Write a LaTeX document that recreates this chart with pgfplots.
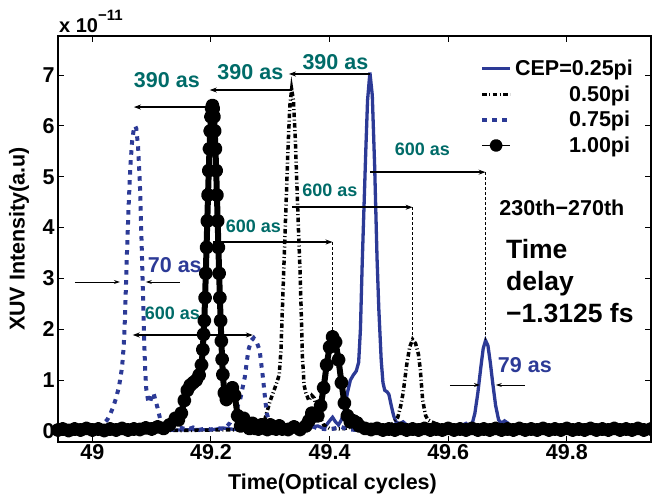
\documentclass[border=0pt]{standalone}
\usepackage{fontspec}
\setmainfont{Liberation Sans}
\usepackage{pgfplots}
\pgfplotsset{compat=1.18}
\usetikzlibrary{arrows.meta}

\definecolor{cblue}{RGB}{44,58,150}
\definecolor{cteal}{RGB}{0,107,104}
\def\fA{\fontsize{21.5bp}{25bp}\selectfont\bfseries}
\def\fB{\fontsize{18bp}{21bp}\selectfont\bfseries}
\def\fC{\fontsize{26.5bp}{32bp}\selectfont\bfseries}

\begin{document}
\begin{tikzpicture}[
  arr/.style={line width=1.8bp,-{Stealth[length=7bp,width=5bp]}},
  arr2/.style={line width=1.8bp,{Stealth[length=7bp,width=5bp]}-{Stealth[length=7bp,width=5bp]}},
  sarr/.style={line width=0.8bp,-{Stealth[length=6bp,width=4bp]}},
  vdot/.style={line width=1.6bp,dash pattern=on 2.5bp off 2.5bp},
]
\begin{axis}[
  width=593bp, height=406bp, scale only axis,
  xmin=48.942, xmax=49.942, ymin=-0.216, ymax=7.767,
  xtick={49,49.2,49.4,49.6,49.8}, ytick={0,1,...,7},
  /pgf/number format/assume math mode=true,
  tick label style={font=\fA},
  xticklabel style={inner sep=2bp},
  axis line style={line width=1.2bp},
  tick style={line width=1bp,black},
  major tick length=6bp,
  xlabel={Time(Optical cycles)}, ylabel={XUV Intensity(a.u)},
  label style={font=\fA},
  xlabel style={at={(axis description cs:0.4629,-0.1034)},anchor=center},
  ylabel style={at={(axis description cs:-0.0658,0.5)},anchor=center},
  legend cell align=left,
  legend style={draw=none, fill=none, at={(axis cs:49.6535,7.295)}, anchor=north west,
    font=\fA, inner sep=0pt, row sep=8.5bp, nodes={inner sep=0pt},
    /tikz/every odd column/.append style={column sep=3bp}},
]
\coordinate (ll) at (rel axis cs:0,0);
\coordinate (tl) at (rel axis cs:0,1);

% CEP = 0.25 pi
\addplot[cblue, line width=3.3bp,
  legend image code/.code={\draw[cblue,line width=3.3bp] (0bp,0bp) -- (28bp,0bp);}]
coordinates {
(48.942,0.01)(48.97,0.02)(49.00,0.01)(49.03,0.02)(49.06,0.01)(49.09,0.02)(49.12,0.01)(49.15,0.02)
(49.18,0.03)(49.20,0.02)(49.22,0.06)(49.24,0.03)(49.26,0.08)(49.28,0.04)(49.30,0.10)(49.32,0.05)
(49.34,0.12)(49.36,0.06)(49.38,0.10)(49.39,0.05)(49.40,0.20)(49.405,0.27)(49.41,0.18)(49.415,0.12)
(49.42,0.22)(49.425,0.40)(49.43,0.75)(49.435,1.00)(49.44,1.10)(49.445,1.18)(49.449,1.35)(49.452,2.0)
(49.455,3.3)(49.458,4.4)(49.461,5.5)(49.464,6.5)(49.468,7.05)(49.472,6.6)(49.476,5.2)(49.48,3.4)
(49.483,2.4)(49.487,1.4)(49.49,0.95)(49.493,0.80)(49.497,0.77)(49.50,0.72)(49.504,0.50)(49.508,0.30)
(49.512,0.18)(49.518,0.14)(49.524,0.18)(49.53,0.12)(49.54,0.04)(49.56,0.02)(49.58,0.03)(49.60,0.02)
(49.615,0.04)(49.625,0.12)(49.63,0.15)(49.635,0.10)(49.64,0.12)(49.645,0.35)(49.65,0.75)(49.655,1.25)
(49.659,1.62)(49.663,1.78)(49.667,1.68)(49.671,1.35)(49.675,0.95)(49.68,0.50)(49.685,0.22)(49.69,0.15)
(49.695,0.20)(49.70,0.16)(49.705,0.06)(49.715,0.03)(49.725,0.08)(49.73,0.06)(49.74,0.02)(49.80,0.01)
(49.87,0.02)(49.942,0.01)
};
\addlegendentry{CEP=0.25pi}

% 0.50 pi
\addplot[black, line width=3.5bp, dash pattern=on 4.5bp off 2.5bp on 1bp off 2.5bp,
  legend image code/.code={\draw[black,line width=3.5bp,dash pattern=on 4.5bp off 2.5bp on 1bp off 2.5bp] (0bp,0bp) -- (28bp,0bp);}]
coordinates {
(48.942,0.01)(49.00,0.02)(49.05,0.01)(49.10,0.02)(49.15,0.01)(49.20,0.02)(49.24,0.02)(49.26,0.04)
(49.28,0.08)(49.29,0.20)(49.30,0.60)(49.31,0.92)(49.315,1.10)(49.318,1.60)(49.321,2.60)(49.324,3.60)
(49.327,4.60)(49.33,5.60)(49.333,6.40)(49.336,6.72)(49.339,6.50)(49.342,5.80)(49.345,4.80)(49.348,3.80)
(49.35,3.20)(49.352,2.40)(49.354,1.50)(49.357,0.90)(49.36,0.75)(49.365,0.60)(49.37,0.70)(49.374,0.65)
(49.378,0.45)(49.384,0.27)(49.39,0.12)(49.40,0.05)(49.42,0.04)(49.44,0.08)(49.45,0.16)(49.46,0.06)
(49.48,0.03)(49.50,0.05)(49.51,0.20)(49.515,0.27)(49.52,0.50)(49.524,0.75)(49.53,1.30)(49.535,1.65)
(49.54,1.80)(49.545,1.72)(49.55,1.50)(49.553,1.20)(49.557,0.60)(49.562,0.30)(49.566,0.22)(49.572,0.18)
(49.578,0.15)(49.585,0.06)(49.60,0.03)(49.70,0.02)(49.80,0.01)(49.942,0.01)
};
\addlegendentry{\hspace*{54bp}0.50pi}

% 0.75 pi
\addplot[cblue, line width=4bp, dash pattern=on 4.5bp off 5.5bp,
  legend image code/.code={\draw[cblue,line width=4bp,dash pattern=on 5bp off 5bp] (0bp,0bp) -- (28bp,0bp);}]
coordinates {
(48.942,0.01)(48.96,0.02)(48.98,0.01)(48.99,0.03)(49.00,0.04)(49.01,0.08)(49.015,0.12)(49.02,0.16)
(49.025,0.22)(49.03,0.33)(49.035,0.47)(49.04,0.65)(49.045,0.88)(49.05,1.25)(49.053,1.70)(49.055,2.25)
(49.058,3.40)(49.061,4.40)(49.064,5.20)(49.067,5.70)(49.070,5.95)(49.072,6.00)(49.074,5.95)(49.077,5.60)
(49.080,4.90)(49.083,3.70)(49.085,2.80)(49.087,1.90)(49.089,1.20)(49.091,0.80)(49.094,0.60)(49.097,0.55)
(49.100,0.70)(49.103,0.75)(49.106,0.62)(49.110,0.45)(49.114,0.25)(49.118,0.15)(49.125,0.08)(49.13,0.05)
(49.14,0.03)(49.15,0.06)(49.16,0.03)(49.17,0.07)(49.18,0.02)(49.19,0.05)(49.20,0.03)(49.21,0.06)
(49.22,0.04)(49.226,0.08)(49.232,0.16)(49.24,0.35)(49.249,0.61)(49.257,1.06)(49.263,1.59)(49.268,1.78)
(49.272,1.83)(49.277,1.75)(49.282,1.59)(49.2875,1.06)(49.291,0.67)(49.294,0.35)(49.299,0.16)(49.305,0.08)
(49.31,0.05)(49.32,0.03)(49.33,0.10)(49.34,0.05)(49.35,0.12)(49.36,0.04)(49.37,0.10)(49.38,0.05)
(49.40,0.03)(49.42,0.08)(49.43,0.03)(49.45,0.02)(49.50,0.03)(49.55,0.02)(49.60,0.01)(49.70,0.02)
(49.80,0.01)(49.942,0.01)
};
\addlegendentry{\hspace*{54bp}0.75pi}

% 1.00 pi
\addplot[black, line width=6bp, line join=round, mark=*, mark size=4bp,
  legend image code/.code={\draw[black,line width=1.8bp] (0bp,0bp) -- (28bp,0bp); \fill[black] (14bp,0bp) circle (3.4bp);}]
coordinates {
(48.942,0.02)(48.95,0.04)(48.96,0.01)(48.97,0.04)(48.98,0.02)(48.99,0.05)(49.00,0.02)(49.01,0.04)
(49.02,0.01)(49.03,0.04)(49.04,0.02)(49.05,0.05)(49.06,0.02)(49.07,0.04)(49.08,0.03)(49.09,0.06)
(49.10,0.04)(49.11,0.08)(49.12,0.05)(49.13,0.12)(49.14,0.25)
(49.145,0.22)(49.15,0.35)(49.155,0.60)(49.16,0.80)(49.165,0.90)(49.17,0.95)(49.175,1.00)(49.18,1.10)
(49.184,1.30)(49.18625,1.60)(49.1875,1.90)(49.18875,2.17)(49.19,2.62)(49.19125,3.10)(49.1925,3.61)
(49.19375,4.13)(49.195,4.64)(49.19625,5.12)(49.1975,5.55)(49.19875,5.90)(49.20,6.18)(49.20125,6.34)
(49.2025,6.40)(49.20375,6.34)(49.205,6.18)(49.20625,5.90)(49.2075,5.55)(49.20875,5.12)(49.21,4.64)
(49.21125,4.13)(49.2125,3.61)(49.21375,3.10)(49.215,2.62)(49.21625,2.17)(49.2175,1.77)(49.21875,1.41)
(49.22,1.11)(49.2225,0.75)(49.226,0.62)(49.231,0.75)(49.236,0.85)(49.24,0.70)(49.245,0.30)(49.25,0.10)
(49.255,0.25)(49.26,0.10)(49.265,0.05)(49.27,0.15)(49.275,0.05)(49.28,0.04)(49.285,0.12)(49.29,0.06)
(49.295,0.03)(49.30,0.12)(49.305,0.05)(49.31,0.04)(49.315,0.10)(49.32,0.04)(49.33,0.03)(49.34,0.08)
(49.35,0.03)(49.36,0.10)(49.365,0.20)(49.37,0.35)(49.375,0.30)(49.38,0.30)(49.385,0.50)(49.39,0.85)
(49.395,1.30)(49.40,1.65)(49.405,1.85)(49.41,1.75)(49.415,1.40)(49.42,0.95)(49.425,0.55)(49.43,0.30)
(49.435,0.18)(49.44,0.20)(49.446,0.16)(49.45,0.10)(49.46,0.05)(49.47,0.03)(49.48,0.05)(49.49,0.02)
(49.50,0.04)(49.51,0.02)(49.52,0.05)(49.53,0.02)(49.54,0.04)(49.55,0.02)(49.56,0.05)(49.57,0.02)
(49.58,0.04)(49.59,0.02)(49.60,0.05)(49.61,0.02)(49.62,0.04)(49.63,0.02)(49.64,0.05)(49.65,0.02)
(49.66,0.04)(49.67,0.02)(49.68,0.05)(49.69,0.02)(49.70,0.04)(49.71,0.02)(49.72,0.05)(49.73,0.02)
(49.74,0.04)(49.75,0.02)(49.76,0.05)(49.77,0.02)(49.78,0.04)(49.79,0.02)(49.80,0.05)(49.81,0.02)
(49.82,0.04)(49.83,0.02)(49.84,0.05)(49.85,0.02)(49.86,0.04)(49.87,0.02)(49.88,0.05)(49.89,0.02)
(49.90,0.04)(49.91,0.02)(49.92,0.05)(49.93,0.02)(49.942,0.04)
};
\addlegendentry{\hspace*{54bp}1.00pi}

% peak-to-peak delays
\node[font=\fA, text=cteal] at (axis cs:49.1256,6.90) {390 as};
\node[font=\fA, text=cteal] at (axis cs:49.2664,7.06) {390 as};
\node[font=\fA, text=cteal] at (axis cs:49.4098,7.26) {390 as};
\draw[arr] (axis cs:49.2032,6.37) -- (axis cs:49.070,6.37);
\draw[arr] (axis cs:49.3364,6.705) -- (axis cs:49.198,6.705);
\draw[arr] (axis cs:49.468,7.02) -- (axis cs:49.3314,7.02);

\node[font=\fB, text=cteal] at (axis cs:49.2715,4.03) {600 as};
\draw[arr] (axis cs:49.2032,3.716) -- (axis cs:49.405,3.716);
\draw[vdot] (axis cs:49.405,3.716) -- (axis cs:49.405,1.87);
\node[font=\fB, text=cteal] at (axis cs:49.4005,4.74) {600 as};
\draw[arr] (axis cs:49.3364,4.40) -- (axis cs:49.54,4.40);
\draw[vdot] (axis cs:49.54,4.40) -- (axis cs:49.54,1.80);
\node[font=\fB, text=cteal] at (axis cs:49.5565,5.545) {600 as};
\draw[arr] (axis cs:49.468,5.09) -- (axis cs:49.663,5.09);
\draw[vdot] (axis cs:49.663,5.09) -- (axis cs:49.663,1.78);
\node[font=\fB, text=cteal] at (axis cs:49.135,2.32) {600 as};
\draw[arr2] (axis cs:49.068,1.888) -- (axis cs:49.2706,1.888);

% pulse widths
\node[font=\fA, text=cblue] at (axis cs:49.139,3.26) {70 as};
\draw[sarr] (axis cs:48.9705,2.93) -- (axis cs:49.0464,2.93);
\draw[sarr] (axis cs:49.1476,2.93) -- (axis cs:49.0902,2.93);
\node[font=\fA, text=cblue] at (axis cs:49.7293,1.30) {79 as};
\draw[sarr] (axis cs:49.6029,0.905) -- (axis cs:49.6535,0.905);
\draw[sarr] (axis cs:49.7293,0.905) -- (axis cs:49.6804,0.905);

\node[font=\fA] at (axis cs:49.7917,4.385) {230th−270th};
\node[font=\fC, anchor=base west, inner sep=0pt] at (axis cs:49.6973,3.40) {Time};
\node[font=\fC, anchor=base west, inner sep=0pt] at (axis cs:49.6973,2.77) {delay};
\node[font=\fC, anchor=base west, inner sep=0pt] at (axis cs:49.6973,2.14) {−1.3125 fs};
\end{axis}
\node[anchor=base west, inner sep=0pt, font=\fontsize{20bp}{23bp}\selectfont\bfseries]
  at ([xshift=1bp,yshift=3bp]tl) {x 10\raisebox{12bp}{\fontsize{15bp}{17bp}\selectfont −11}};
\pgfresetboundingbox
\path[use as bounding box] ([xshift=-58bp,yshift=-54bp]ll) rectangle ++(652bp,496bp);
\end{tikzpicture}
\end{document}
